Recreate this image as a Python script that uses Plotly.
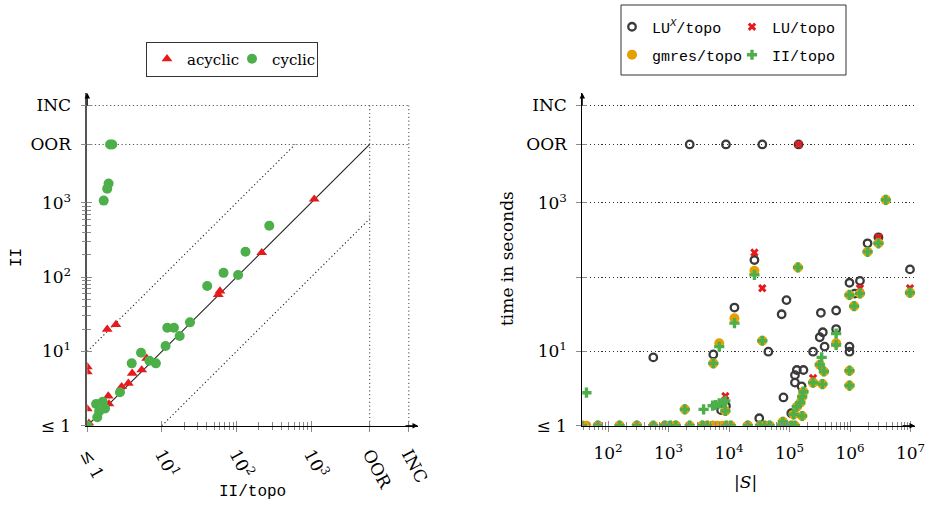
import plotly.graph_objects as go

# ---------------- sentinel values ----------------
OOR = 6100     # "out of resources"
INC = 20400    # "inconclusive"

# ---------------- left panel: II/topo vs II ----------------
acyclic_x = [1100, 218, 60, 57, 1.85, 2.42, 1, 1, 1, 1.05, 1.91, 1.95, 2.89, 3.55, 4.0, 5.36, 6.25, 1]
acyclic_y = [1120, 213, 65, 58, 19.8, 23, 6.2, 5.3, 1.68, 1.08, 2.51, 1.96, 3.35, 3.72, 5.07, 5.62, 8.07, 1]

cyclic_x = [2.02, 2.16, 1.93, 1.85, 1.66, 275, 132, 67, 105, 40.5, 23.8, 11.8, 14.5, 17.3, 11.2,
            5.25, 3.94, 6.8, 8.3, 2.74, 1.31, 1.61, 1.73, 1.44, 1.36, 1, 1]
cyclic_y = [OOR, OOR, 1820, 1550, 1070, 490, 219, 114, 107, 76, 24.6, 20.8, 20.8, 16.1, 11.8,
            9.6, 6.9, 7.5, 6.9, 2.82, 1.96, 2.1, 1.71, 1.55, 1.30, 1, 1]

left_ticks = [1, 10, 100, 1000, OOR, INC]
left_ticktext = ["≤ 1", "10<sup>1</sup>", "10<sup>2</sup>", "10<sup>3</sup>", "OOR", "INC"]
left_minor = [20, 30, 40, 50, 60, 70, 80, 90, 200, 300, 400, 500, 600, 700, 800, 900]

# ---------------- right panel: |S| vs time ----------------
lux_S = [2240, 8900, 35500, 141000, 560, 5500, 12300, 26300, 44700, 74100, 89100, 79400, 31600,
         7400, 8900, 107000, 132000, 170000, 123000, 123000, 158000, 245000, 330000, 355000,
         316000, 380000, 590000, 590000, 980000, 980000, 980000, 1460000, 1200000, 1950000,
         2950000, 9800000, 37, 68, 155, 300, 870, 1320, 3630, 5370, 20400, 46800]
lux_t = [OOR, OOR, OOR, OOR, 8.3, 9.1, 38.9, 170, 9.9, 31.6, 49, 2.4, 1.26,
         1.62, 1.84, 1.47, 5.62, 5.62, 4.79, 3.8, 3.39, 9.9, 33.1, 18.1,
         15.5, 11.6, 35.5, 20, 84, 11.6, 9.9, 89, 60, 285,
         343, 127, 1, 1, 1, 1, 1, 1, 1, 1, 1, 1]

lu_S = [141000, 26300, 35500, 8700, 2950000, 9800000, 1460000, 245000, 37, 155, 870, 3630, 20400, 74100]
lu_t = [OOR, 214, 70.8, 2.51, 343, 70.8, 70.8, 4.37, 1, 1, 1, 1, 1, 1]

gmres_S = [37, 44, 68, 155, 300, 560, 870, 1070, 1320, 2240, 3630, 4370, 5370, 6500, 7800, 9000,
           10700, 20400, 32400, 38900, 46800, 74100, 89100, 107000, 123000,
           1860, 5500, 6900, 8700, 12300, 26300, 35500, 138000, 245000, 316000, 370000, 350000,
           590000, 980000, 980000, 980000, 1170000, 1460000, 1950000, 2950000, 3900000, 9800000,
           170000, 162000, 151000, 132000, 162000, 117000, 77600]
gmres_t = [1, 1, 1, 1, 1, 1, 1, 1, 1, 1, 1, 1, 1, 1, 1, 1,
           1, 1, 1, 1, 1, 1, 1, 1, 1,
           1.66, 6.9, 12.9, 1.58, 27.9, 122, 13.9, 135, 3.8, 6.6, 5.37, 3.63,
           12.9, 5.5, 3.47, 57.5, 40.7, 60.3, 219, 285, 1096, 61.7,
           2.87, 2.45, 2.04, 1.8, 1.35, 1.42, 1.13]

ii_S = [37, 44, 68, 155, 300, 560, 870, 1070, 1320, 2240, 3630, 4370, 9000,
        10700, 20400, 32400, 38900, 46800, 74100, 89100, 107000, 123000,
        3800, 5370, 6030, 6900, 7940, 8700,
        1860, 5500, 6900, 8700, 12300, 26300, 35500, 138000, 245000, 316000, 370000, 350000, 340000,
        590000, 590000, 980000, 980000, 980000, 1170000, 1460000, 1950000, 2950000, 3900000, 9800000,
        170000, 162000, 151000, 132000, 162000, 117000, 77600]
ii_t = [1, 2.78, 1, 1, 1, 1, 1, 1, 1, 1, 1, 1, 1,
        1, 1, 1, 1, 1, 1, 1, 1, 1,
        1.66, 1.86, 1.9, 2.0, 2.04, 2.16,
        1.66, 6.9, 11.6, 1.58, 24, 107, 13.9, 135, 3.8, 6.6, 5.37, 3.63, 8.3,
        12.2, 17.4, 5.5, 3.47, 57.5, 40.7, 60.3, 219, 285, 1096, 61.7,
        2.87, 2.45, 2.04, 1.8, 1.35, 1.42, 1.13]

right_yticks = [1, 10, 100, 1000, OOR, INC]
right_yticktext = ["≤ 1", "10<sup>1</sup>", "", "10<sup>3</sup>", "OOR", "INC"]
right_xticks = [100, 1000, 10000, 100000, 1000000, 10000000]
right_xticktext = ["10<sup>2</sup>", "10<sup>3</sup>", "10<sup>4</sup>", "10<sup>5</sup>",
                   "10<sup>6</sup>", "10<sup>7</sup>"]
right_xminor = [m * 10 ** k for k in range(1, 7) for m in range(2, 10)]

# ---------------- styling ----------------
W, H = 925, 507
SERIF = "DejaVu Serif"
MONO = "Liberation Mono"
RED = "#e41a1c"
GREEN = "#4daf4a"
ORANGE = "#e69f00"
DARK = "#3a3a3a"
TICKC = "#8a8a8a"
FINEDOT = "1.2px,2.6px"


def px_x(p):
    return p / W


def px_y(p):
    return (H - p) / H


L_XDOM = [px_x(87.3), px_x(418)]
R_XDOM = [px_x(582.3), px_x(915)]
YDOM = [px_y(425.7), px_y(93)]
L_XRANGE = [0, (418 - 87.3) / 74.6]
Y_RANGE = [0, (425.7 - 93) / 74.3]
R_XRANGE = [1.575, 1.575 + (915 - 582.3) / 60.5]

fig = go.Figure()

# reference lines of left panel
dot_x = [1, INC, None, 1, INC, None, OOR, OOR, None, INC, INC]
dot_y = [INC, INC, None, OOR, OOR, None, 1, INC, None, 1, INC]
fig.add_trace(go.Scatter(x=dot_x, y=dot_y, mode="lines", xaxis="x", yaxis="y",
                         line=dict(color="#555", width=1.1, dash=FINEDOT),
                         showlegend=False, hoverinfo="skip"))
fig.add_trace(go.Scatter(x=[1, OOR / 10, None, 10, OOR], y=[10, OOR, None, 1, OOR / 10],
                         mode="lines", xaxis="x", yaxis="y",
                         line=dict(color="#222", width=1.1, dash=FINEDOT),
                         showlegend=False, hoverinfo="skip"))
fig.add_trace(go.Scatter(x=[1, OOR], y=[1, OOR], mode="lines", xaxis="x", yaxis="y",
                         line=dict(color="#222", width=1.1),
                         showlegend=False, hoverinfo="skip"))

fig.add_trace(go.Scatter(x=acyclic_x, y=acyclic_y, mode="markers", name="acyclic",
                         xaxis="x", yaxis="y", legend="legend",
                         marker=dict(symbol="triangle-up", size=9.5, color=RED)))
fig.add_trace(go.Scatter(x=cyclic_x, y=cyclic_y, mode="markers", name="cyclic",
                         xaxis="x", yaxis="y", legend="legend",
                         marker=dict(symbol="circle", size=10, color=GREEN)))

# right panel
fig.add_trace(go.Scatter(x=lux_S, y=lux_t, mode="markers", name="LU<sup><i>X</i></sup>/topo",
                         xaxis="x2", yaxis="y2", legend="legend2",
                         marker=dict(symbol="circle-open", size=7.5, color=DARK,
                                     line=dict(width=2.3, color=DARK))))
fig.add_trace(go.Scatter(x=lu_S, y=lu_t, mode="markers", name="LU/topo",
                         xaxis="x2", yaxis="y2", legend="legend2",
                         marker=dict(symbol="x", size=7.5, color=RED)))
fig.add_trace(go.Scatter(x=gmres_S, y=gmres_t, mode="markers", name="gmres/topo",
                         xaxis="x2", yaxis="y2", legend="legend3",
                         marker=dict(symbol="circle", size=10, color=ORANGE)))
fig.add_trace(go.Scatter(x=ii_S, y=ii_t, mode="markers", name="II/topo",
                         xaxis="x2", yaxis="y2", legend="legend3",
                         marker=dict(symbol="cross", size=8.5, color=GREEN)))

# invisible traces so that overlay tick axes exist
for xa, ya in [("x3", "y"), ("x", "y3"), ("x4", "y2"), ("x2", "y4")]:
    fig.add_trace(go.Scatter(x=[1000], y=[1000], xaxis=xa, yaxis=ya, mode="markers",
                             marker=dict(opacity=0), showlegend=False, hoverinfo="skip"))

tickfont = dict(family=SERIF, size=17, color="black")

common = dict(type="log", showgrid=False, zeroline=False, ticks="outside",
              tickcolor=TICKC, tickwidth=1, ticklabeloverflow="allow")

layout_axes = dict(
    xaxis=dict(**common, domain=L_XDOM, range=L_XRANGE, anchor="y",
               showline=True, linecolor="black", linewidth=1,
               tickmode="array", tickvals=left_ticks, ticktext=left_ticktext,
               tickangle=62, ticklen=5, tickfont=tickfont, ticklabelstandoff=6,
               minor=dict(tickmode="array", tickvals=left_minor, ticks="outside",
                          ticklen=3.5, tickcolor=TICKC)),
    yaxis=dict(**common, domain=YDOM, range=Y_RANGE, anchor="x",
               showline=True, linecolor="#555", linewidth=1.6,
               tickmode="array", tickvals=left_ticks, ticktext=left_ticktext,
               ticklen=5, tickfont=tickfont, ticklabelstandoff=6,
               minor=dict(tickmode="array", tickvals=left_minor, ticks="outside",
                          ticklen=3.5, tickcolor=TICKC)),
    xaxis3=dict(**{**common, "ticks": "inside"}, overlaying="x", anchor="y", range=L_XRANGE,
                showline=False, showticklabels=False,
                tickmode="array", tickvals=left_ticks, ticklen=5,
                minor=dict(tickmode="array", tickvals=left_minor, ticks="inside",
                           ticklen=3.5, tickcolor=TICKC)),
    yaxis3=dict(**{**common, "ticks": "inside"}, overlaying="y", anchor="x", range=Y_RANGE,
                showline=False, showticklabels=False,
                tickmode="array", tickvals=left_ticks, ticklen=5,
                minor=dict(tickmode="array", tickvals=left_minor, ticks="inside",
                           ticklen=3.5, tickcolor=TICKC)),
    xaxis2=dict(**common, domain=R_XDOM, range=R_XRANGE, anchor="y2",
                showline=True, linecolor="black", linewidth=1,
                tickmode="array", tickvals=right_xticks, ticktext=right_xticktext,
                ticklen=5, tickfont=tickfont, ticklabelstandoff=7,
                minor=dict(tickmode="array", tickvals=right_xminor, ticks="outside",
                           ticklen=3.5, tickcolor=TICKC)),
    yaxis2=dict(**common, domain=YDOM, range=Y_RANGE, anchor="x2",
                showline=True, linecolor="black", linewidth=1,
                tickmode="array", tickvals=right_yticks, ticktext=right_yticktext,
                ticklen=5, tickfont=tickfont, ticklabelstandoff=6),
    xaxis4=dict(**{**common, "ticks": "inside"}, overlaying="x2", anchor="y2", range=R_XRANGE,
                showline=False, showticklabels=False,
                tickmode="array", tickvals=right_xticks, ticklen=5,
                minor=dict(tickmode="array", tickvals=right_xminor, ticks="inside",
                           ticklen=3.5, tickcolor=TICKC)),
    yaxis4=dict(**{**common, "ticks": "inside"}, overlaying="y2", anchor="x2", range=Y_RANGE,
                showline=False, showticklabels=False,
                tickmode="array", tickvals=right_yticks, ticklen=5),
)
# right panel dotted horizontal grid
layout_axes["yaxis2"].update(showgrid=True, gridcolor="#333", griddash=FINEDOT, gridwidth=1.1)

ann_common = dict(xref="paper", yref="paper", xanchor="center", yanchor="middle", showarrow=False)
annotations = [
    dict(text="II/topo", x=px_x(253), y=px_y(492), **ann_common,
         font=dict(family=MONO, size=16, color="black")),
    dict(text="II", x=px_x(17), y=px_y(258), textangle=-90, **ann_common,
         font=dict(family=MONO, size=16, color="black")),
    dict(text="time in seconds", x=px_x(507), y=px_y(258), textangle=-90, **ann_common,
         font=dict(family=SERIF, size=17, color="black")),
    dict(text="|<i>S</i>|", x=px_x(745), y=px_y(482), **ann_common,
         font=dict(family=SERIF, size=17, color="black")),
]
# axis arrows
for xr, yr in [("x", "y"), ("x2", "y2")]:
    annotations.append(dict(x=1, y=0, xref=f"{xr} domain", yref=f"{yr} domain", ax=-14, ay=0,
                            axref="pixel", ayref="pixel", text="", showarrow=True,
                            arrowhead=2, arrowsize=1.1, arrowwidth=1, arrowcolor="black"))
    annotations.append(dict(x=0, y=1, xref=f"{xr} domain", yref=f"{yr} domain", ax=0, ay=14,
                            axref="pixel", ayref="pixel", text="", showarrow=True,
                            arrowhead=2, arrowsize=1.1, arrowwidth=1, arrowcolor="black"))

# frame of the right legend (its two rows are two plotly legends)
shapes = [dict(type="rect", xref="paper", yref="paper",
               x0=px_x(621), x1=px_x(846), y0=px_y(75), y1=px_y(5),
               line=dict(color="#333", width=1), fillcolor="rgba(0,0,0,0)")]

legend_row = dict(xanchor="left", yanchor="middle", orientation="h",
                  bgcolor="rgba(0,0,0,0)", borderwidth=0, itemwidth=30,
                  entrywidth=75, entrywidthmode="pixels",
                  font=dict(family=MONO, size=15, color="black"))

fig.update_layout(
    width=W, height=H, margin=dict(l=0, r=0, t=0, b=0, autoexpand=False),
    paper_bgcolor="white", plot_bgcolor="white",
    annotations=annotations, shapes=shapes,
    legend=dict(x=px_x(146), y=px_y(59), xanchor="left", yanchor="middle", orientation="h",
                bordercolor="#333", borderwidth=1, bgcolor="white", itemwidth=30,
                entrywidth=40, entrywidthmode="pixels",
                font=dict(family=SERIF, size=15, color="black")),
    legend2=dict(x=px_x(612), y=px_y(27), **legend_row),
    legend3=dict(x=px_x(612), y=px_y(55), **legend_row),
    **layout_axes,
)

fig.write_html("out.html",
               config={"displayModeBar": False},
               post_script="document.body.style.margin='0';"
                           "document.documentElement.style.overflow='hidden';"
                           "document.body.style.overflow='hidden';")
